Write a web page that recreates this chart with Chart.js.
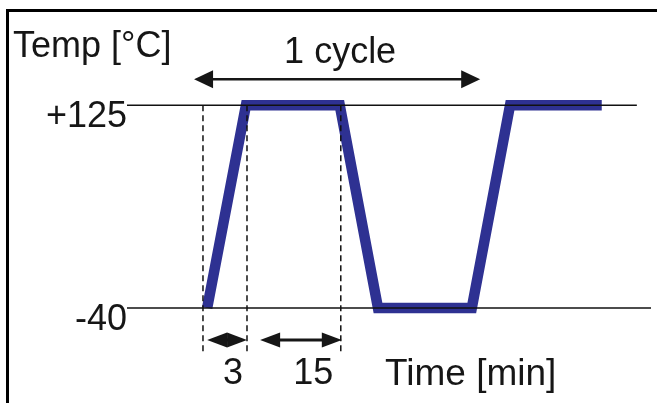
<!DOCTYPE html>
<html>
<head>
<meta charset="utf-8">
<script src="https://cdn.jsdelivr.net/npm/chart.js@4"></script>
<style>
  html, body { margin: 0; padding: 0; background: #fff; }
  #wrap { position: relative; width: 657px; height: 403px; overflow: hidden; }
  #frame {
    position: absolute; left: 6px; top: 9px; right: -10px; bottom: -10px;
    border-top: 3px solid #000; border-left: 3px solid #000;
    pointer-events: none;
  }
</style>
</head>
<body>
<div id="wrap">
  <canvas id="cycleChart" width="657" height="403"></canvas>
  <div id="frame"></div>
</div>
<script>
// schematic time axis (0..100 = width of the plot), temperature in degC
const timeX = [15.3, 22.7, 40.6, 47.9, 65.8, 73.1, 90.6];
const tempY = [-40, 125, 125, -40, -40, 125, 125];

const levelValues = [125, -40];
const levelLabels = ['+125', '-40'];
const levelEnds = [97.3, 100];

const guideX = [14.5, 22.9, 40.8];
const guideBottom = -76;

const spanLabels = ['3', '15'];
const spanFrom = [15.3, 25.4];
const spanTo = [22.9, 41.0];
const spanY = -66;

const cycleLabel = '1 cycle';
const cycleFrom = 12.8;
const cycleTo = 67.4;
const cycleY = 146;

const yTitle = 'Temp [°C]';
const xTitle = 'Time [min]';

const FONT = '36px "Liberation Sans", Arial, sans-serif';
const INK = '#161616';

function toPoints(xs, ys) {
    return xs.map(function(x, i) { return { x: x, y: ys[i] }; });
}

var datasets = [];

levelValues.forEach(function(v, i) {
    datasets.push({
        data: [{ x: 0, y: v }, { x: levelEnds[i], y: v }],
        borderColor: '#111',
        borderWidth: 1.6,
        pointRadius: 0,
        order: 0
    });
});

guideX.forEach(function(x) {
    datasets.push({
        data: [{ x: x, y: levelValues[0] }, { x: x, y: guideBottom }],
        borderColor: '#111',
        borderWidth: 1.5,
        borderDash: [6, 4],
        pointRadius: 0,
        order: 0
    });
});

datasets.push({
    data: toPoints(timeX, tempY),
    borderColor: '#2E3192',
    borderWidth: 10.5,
    borderJoinStyle: 'miter',
    borderCapStyle: 'butt',
    pointRadius: 0,
    tension: 0,
    order: 1
});

function arrowHead(ctx, tipX, y, dir, len, half) {
    ctx.beginPath();
    ctx.moveTo(tipX, y);
    ctx.lineTo(tipX + dir * len, y - half);
    ctx.lineTo(tipX + dir * len, y + half);
    ctx.closePath();
    ctx.fill();
}

function drawArrow(ctx, x1, x2, y, len, half, width) {
    var l = Math.min(len, (x2 - x1) / 2);
    ctx.lineWidth = width;
    ctx.beginPath();
    ctx.moveTo(x1 + l * 0.5, y);
    ctx.lineTo(x2 - l * 0.5, y);
    ctx.stroke();
    arrowHead(ctx, x1, y, 1, l, half);
    arrowHead(ctx, x2, y, -1, l, half);
}

const annotations = {
    id: 'annotations',
    afterDatasetsDraw: function(chart) {
        var ctx = chart.ctx;
        var xs = chart.scales.x, ys = chart.scales.y;
        var area = chart.chartArea;
        ctx.save();
        ctx.fillStyle = INK;
        ctx.strokeStyle = INK;
        ctx.font = FONT;

        // cycle arrow
        var cy = ys.getPixelForValue(cycleY);
        var c1 = xs.getPixelForValue(cycleFrom), c2 = xs.getPixelForValue(cycleTo);
        drawArrow(ctx, c1, c2, cy, 19, 9, 2.5);
        ctx.textAlign = 'center';
        ctx.textBaseline = 'alphabetic';
        ctx.fillText(cycleLabel, (c1 + c2) / 2 + 3, cy - 16);

        // duration arrows
        var sy = ys.getPixelForValue(spanY);
        spanLabels.forEach(function(lab, i) {
            var a = xs.getPixelForValue(spanFrom[i]), b = xs.getPixelForValue(spanTo[i]);
            drawArrow(ctx, a, b, sy, 20, 7.5, 3);
            ctx.fillText(lab, (a + b) / 2 + 0.15 * (b - a), sy + 44);
        });

        // level labels
        ctx.textAlign = 'right';
        levelValues.forEach(function(v, i) {
            ctx.fillText(levelLabels[i], area.left, ys.getPixelForValue(v) + 22);
        });

        // titles
        ctx.textAlign = 'left';
        ctx.fillText(yTitle, 13, 57);
        ctx.font = '37px "Liberation Sans", Arial, sans-serif';
        ctx.fillText(xTitle, 385, 385);
        ctx.restore();
    }
};

var chart = new Chart(document.getElementById('cycleChart'), {
    type: 'line',
    data: { datasets: datasets },
    options: {
        responsive: false,
        animation: false,
        devicePixelRatio: 1,
        layout: { padding: { left: 127, right: 6, top: 13, bottom: 9 } },
        plugins: { legend: { display: false }, tooltip: { enabled: false } },
        scales: {
            x: { type: 'linear', min: 0, max: 100, display: false },
            y: { type: 'linear', min: -110, max: 200, display: false }
        }
    },
    plugins: [annotations]
});
</script>
</body>
</html>
